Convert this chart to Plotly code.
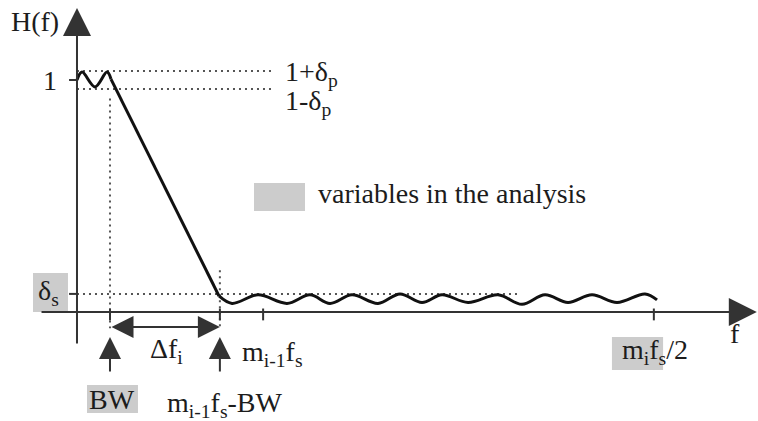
import plotly.graph_objects as go

# ---- filter specification (normalised frequency, BW = 1) ----
f_bw = 1.0          # BW
f_stop = 4.33       # m_{i-1} f_s - BW
f_alias = 5.64      # m_{i-1} f_s
f_half = 17.48      # m_i f_s / 2
delta_p = 0.039     # passband ripple
delta_s = 0.078     # stopband level

# ---- magnitude response |H(f)| (ripple extremes, smoothed by a spline) ----
resp_f = [0.0, 0.152, 0.545, 0.909, 1.03,
          4.303, 4.697, 5.485, 6.364, 7.061, 7.667, 8.333, 9.121, 9.788,
          10.455, 11.061, 11.848, 12.758, 13.485, 14.182, 14.879, 15.606,
          16.364, 17.212, 17.576]
resp_h = [1.0, 1.034, 0.970, 1.034, 1.004,
          0.069, 0.037, 0.074, 0.037, 0.074, 0.037, 0.074, 0.037, 0.078,
          0.041, 0.074, 0.041, 0.074, 0.033, 0.074, 0.041, 0.074,
          0.041, 0.078, 0.052]
PASS_END = 4     # last passband point; the transition band is a straight line
STOP_START = 5

# ---- axis extents ----
f_axis = [-1.12, 20.6]
h_axis = [-0.142, 1.31]
f_view = [-2.333, 20.636]
h_view = [-0.4698, 1.3448]

FONT = "Liberation Serif, Times New Roman, serif"
INK = "#1c1c1c"
AXIS = "#333333"
DOT = "#555555"
GREY = "#cccccc"
CURVE = dict(color="#111111", width=3)

fig = go.Figure()


def curve(xs, ys, shape):
    fig.add_trace(go.Scatter(
        x=xs, y=ys, mode="lines",
        line=dict(**CURVE, shape=shape, smoothing=1.0) if shape == "spline"
        else dict(**CURVE, shape=shape),
        hoverinfo="skip", showlegend=False,
    ))


curve(resp_f[:PASS_END + 1], resp_h[:PASS_END + 1], "spline")
curve(resp_f[PASS_END:STOP_START + 1], resp_h[PASS_END:STOP_START + 1], "linear")
curve(resp_f[STOP_START:], resp_h[STOP_START:], "spline")

shapes = []


def dotted(x0, y0, x1, y1):
    shapes.append(dict(type="line", xref="x", yref="y", x0=x0, y0=y0, x1=x1, y1=y1,
                       line=dict(color=DOT, width=2, dash="2px,4px"), layer="below"))


def tick(x0, y0, x1, y1):
    shapes.append(dict(type="line", xref="x", yref="y", x0=x0, y0=y0, x1=x1, y1=y1,
                       line=dict(color=AXIS, width=2), layer="above"))


def box(x0, y0, x1, y1):
    shapes.append(dict(type="rect", xref="x", yref="y", x0=x0, y0=y0, x1=x1, y1=y1,
                       fillcolor=GREY, line=dict(width=0), layer="below"))


# tolerance guide lines
dotted(0, 1 + delta_p, 5.9, 1 + delta_p)
dotted(0, 1 - delta_p, 5.9, 1 - delta_p)
dotted(0, delta_s, 13.36, delta_s)
dotted(f_bw, 0.92, f_bw, -0.07)
dotted(f_stop, 0.18, f_stop, -0.078)

# ticks
for fv in [f_bw, f_stop, f_alias, f_half]:
    tick(fv, 0.015, fv, -0.036)
tick(-0.24, 1.0, 0, 1.0)
tick(-0.24, delta_s, 0, delta_s)

# shaded "variables in the analysis"
box(5.364, 0.435, 6.909, 0.556)      # key swatch
box(-1.333, 0.0, -0.273, 0.168)      # delta_s
box(0.303, -0.315, 1.848, -0.435)    # BW
box(16.21, -0.108, 17.76, -0.25)     # m_i f_s

annotations = []


def arrow(x, y, ax, ay, width, size, both=False):
    annotations.append(dict(
        x=x, y=y, ax=ax, ay=ay, xref="x", yref="y", axref="x", ayref="y",
        text="", showarrow=True, arrowhead=2, arrowsize=size, arrowwidth=width,
        arrowcolor=AXIS, standoff=0, startstandoff=0,
        arrowside="end+start" if both else "end", startarrowhead=2, startarrowsize=size,
    ))


def label(x, y, text, xanchor="center", size=28):
    annotations.append(dict(
        x=x, y=y, xref="x", yref="y", text=text, showarrow=False,
        xanchor=xanchor, yanchor="middle",
        font=dict(family=FONT, size=size, color=INK),
    ))


# coordinate axes
arrow(f_axis[1], 0, f_axis[0], 0, 2, 2.8)
arrow(0, h_axis[1], 0, h_axis[0], 2, 2.8)

# bandwidth / transition arrows
arrow(f_stop, -0.065, f_bw, -0.065, 2, 2.2, both=True)
arrow(f_bw, -0.108, f_bw, -0.263, 2, 2.2)
arrow(f_stop, -0.108, f_stop, -0.263, 2, 2.2)

label(-1.273, 1.25, "H(f)")
label(-0.818, 1.0, "1")
label(6.24, 1.03, "1+δ<sub>p</sub>", xanchor="left")
label(6.24, 0.905, "1-δ<sub>p</sub>", xanchor="left")
label(7.24, 0.509, "variables in the analysis", xanchor="left")
label(-1.24, 0.082, "δ<sub>s</sub>", xanchor="left")
label(2.70, -0.164, "Δf<sub>i</sub>")
label(4.94, -0.177, "m<sub>i-1</sub>f<sub>s</sub>", xanchor="left")
label(2.667, -0.398, "m<sub>i-1</sub>f<sub>s</sub>-BW", xanchor="left")
label(1.06, -0.375, "BW")
label(16.45, -0.172, "m<sub>i</sub>f<sub>s</sub>/2", xanchor="left")
label(19.94, -0.091, "f")

fig.update_layout(
    width=758, height=421, autosize=False,
    margin=dict(l=0, r=0, t=0, b=0),
    paper_bgcolor="white", plot_bgcolor="white",
    xaxis=dict(range=f_view, visible=False, fixedrange=True),
    yaxis=dict(range=h_view, visible=False, fixedrange=True),
    shapes=shapes, annotations=annotations,
    showlegend=False,
)

fig.write_html("out.html", config={"displayModeBar": False})
